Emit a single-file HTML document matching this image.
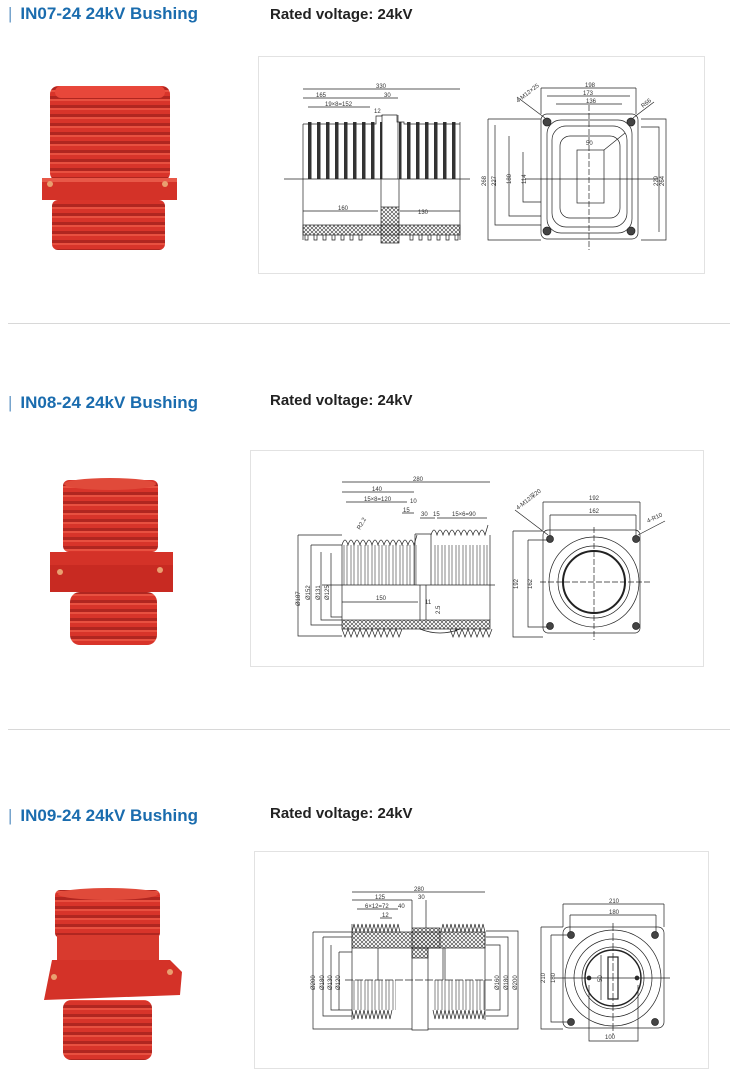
<!DOCTYPE html>
<html><head><meta charset="utf-8"><style>
html,body{margin:0;padding:0;background:#fff;}
body{width:730px;height:1080px;position:relative;overflow:hidden;font-family:"Liberation Sans",sans-serif;}
.t{position:absolute;left:8px;font-weight:bold;font-size:17px;color:#1a6cae;white-space:nowrap;}
.t span{color:#6a9cc8;font-weight:normal;margin-right:8px;}
.r{position:absolute;left:270px;font-weight:bold;font-size:15px;color:#222;white-space:nowrap;}
.hr{position:absolute;left:8px;width:722px;height:1px;background:#d8d8d8;}
svg{position:absolute;left:0;top:0;}
</style></head><body>
<div class="t" style="top:4px"><span>|</span>IN07-24 24kV Bushing</div>
<div class="r" style="top:6px">Rated voltage: 24kV</div>
<div class="hr" style="top:323px"></div>
<div class="t" style="top:393px"><span>|</span>IN08-24 24kV Bushing</div>
<div class="r" style="top:392px">Rated voltage: 24kV</div>
<div class="hr" style="top:729px"></div>
<div class="t" style="top:806px"><span>|</span>IN09-24 24kV Bushing</div>
<div class="r" style="top:805px">Rated voltage: 24kV</div>

<svg width="730" height="1080" viewBox="0 0 730 1080" font-family="Liberation Sans, sans-serif" font-size="6" fill="none" stroke="#222" stroke-width="0.7">
<defs>
<pattern id="rib" width="10" height="9" patternUnits="userSpaceOnUse"><rect width="10" height="9" fill="#d8342a" stroke="none"/><rect y="6" width="10" height="3" fill="#b02620" stroke="none"/><rect y="0" width="10" height="2" fill="#e85040" stroke="none"/></pattern>
<pattern id="fin" width="9" height="10" patternUnits="userSpaceOnUse"><rect x="2" width="3.5" height="10" fill="#333" stroke="none"/></pattern>
<pattern id="fin2" width="7" height="10" patternUnits="userSpaceOnUse"><line x1="1" y1="0" x2="1" y2="10" stroke="#333" stroke-width="0.6"/><line x1="4" y1="0" x2="4" y2="10" stroke="#333" stroke-width="0.6"/></pattern>
<pattern id="hatch" width="4" height="4" patternUnits="userSpaceOnUse"><path d="M0 0L4 4M4 0L0 4" stroke="#333" stroke-width="0.6"/></pattern>
</defs>

<!-- photo 1 -->
<g stroke="none">
<rect x="50" y="86" width="120" height="95" rx="8" fill="url(#rib)"/>
<rect x="55" y="86" width="110" height="12" rx="6" fill="#e8473a"/>
<path d="M42 178 L177 178 L177 200 L42 200 Z" fill="#d43228"/>
<rect x="42" y="178" width="135" height="4" fill="#e85848"/>
<circle cx="50" cy="184" r="3" fill="#e9a070"/><circle cx="165" cy="184" r="3" fill="#e9a070"/>
<rect x="52" y="200" width="113" height="50" rx="6" fill="url(#rib)"/>
</g>
<!-- photo 2 -->
<g stroke="none">
<rect x="63" y="480" width="95" height="72" rx="6" fill="url(#rib)"/>
<ellipse cx="110" cy="484" rx="46" ry="6" fill="#e04a3a"/>
<path d="M50 552 L173 552 L173 592 L50 592 Z" fill="#d43228"/>
<rect x="50" y="565" width="123" height="27" fill="#c82a22"/>
<circle cx="60" cy="572" r="3" fill="#e9a070"/><circle cx="160" cy="570" r="3" fill="#e9a070"/>
<rect x="70" y="592" width="87" height="53" rx="10" fill="url(#rib)"/>
</g>
<!-- photo 3 -->
<g stroke="none">
<rect x="55" y="890" width="105" height="48" rx="5" fill="url(#rib)"/>
<ellipse cx="108" cy="894" rx="50" ry="6" fill="#e04a3a"/>
<rect x="57" y="935" width="102" height="30" fill="#d83a2e"/>
<path d="M52 960 L170 960 L182 972 L180 995 L44 1000 Z" fill="#d43228"/>
<circle cx="54" cy="977" r="3" fill="#e9a070"/><circle cx="170" cy="972" r="3" fill="#e9a070"/>
<rect x="63" y="1000" width="89" height="60" rx="8" fill="url(#rib)"/>
</g>

<!-- drawing boxes -->
<rect x="258.5" y="56.5" width="446" height="217" stroke="#e2e2e2" stroke-width="1"/>
<rect x="250.5" y="450.5" width="453" height="216" stroke="#e2e2e2" stroke-width="1"/>
<rect x="254.5" y="851.5" width="454" height="217" stroke="#e2e2e2" stroke-width="1"/>

<!-- drawing 1 left -->
<g>
<rect x="303" y="122" width="79" height="57" fill="url(#fin)" stroke="none"/>
<rect x="399" y="122" width="61" height="57" fill="url(#fin)" stroke="none"/>
<path d="M303 124 H376 V116 H382 V115 H397 V122 H404 V124 H460"/>
<line x1="303" y1="124" x2="303" y2="240"/><line x1="460" y1="122" x2="460" y2="240"/>
<line x1="382" y1="115" x2="382" y2="179"/><line x1="398" y1="115" x2="398" y2="179"/>
<line x1="284" y1="179" x2="470" y2="179"/>
<line x1="303" y1="89" x2="460" y2="89"/><line x1="303" y1="98" x2="398" y2="98"/><line x1="308" y1="107" x2="370" y2="107"/>
<line x1="303" y1="211" x2="378" y2="211"/><line x1="400" y1="211" x2="460" y2="211"/>
<line x1="381" y1="179" x2="381" y2="207"/><line x1="399" y1="179" x2="399" y2="207"/>
<rect x="303" y="225" width="157" height="10" fill="url(#hatch)"/>
<rect x="381" y="207" width="18" height="36" fill="url(#hatch)"/>
<path d="M305 235v5h3v-5M314 235v5h3v-5M323 235v5h3v-5M332 235v5h3v-5M341 235v5h3v-5M350 235v5h3v-5M359 235v5h3v-5M410 235v5h3v-5M419 235v5h3v-5M428 235v5h3v-5M437 235v5h3v-5M446 235v5h3v-5M455 235v5h3v-5"/>
<g fill="#333" stroke="none"><text x="376" y="88">330</text><text x="316" y="97">165</text><text x="384" y="97">30</text><text x="325" y="106">19×8=152</text><text x="374" y="113">12</text><text x="338" y="210">160</text><text x="418" y="214">130</text></g>
</g>
<!-- drawing 1 right -->
<g>
<rect x="541" y="114" width="97" height="125" rx="6"/>
<rect x="547" y="120" width="85" height="113" rx="14"/>
<rect x="552" y="126" width="75" height="101" rx="14"/>
<rect x="560" y="136" width="60" height="82" rx="10"/>
<rect x="577" y="150" width="27" height="53"/>
<circle cx="547" cy="122" r="4" fill="#444"/><circle cx="631" cy="122" r="4" fill="#444"/><circle cx="547" cy="231" r="4" fill="#444"/><circle cx="631" cy="231" r="4" fill="#444"/>
<line x1="525" y1="179" x2="658" y2="179"/><line x1="589" y1="105" x2="589" y2="250" stroke-dasharray="6 2"/>
<path d="M541 88H636M547 96H630M556 104H622M541 88V114M636 88V114"/>
<path d="M488 119H541M488 119V240H541M495 125V225H541M509 136V216H541M523 152V202H541M641 119H666V240H641M641 127H659V232"/>
<line x1="517" y1="97" x2="545" y2="118"/><line x1="633" y1="118" x2="654" y2="102"/><line x1="604" y1="150" x2="625" y2="133"/>
<g fill="#333" stroke="none"><text x="585" y="87">198</text><text x="583" y="95">173</text><text x="586" y="103">136</text><text x="586" y="145">50</text>
<text transform="translate(486 186) rotate(-90)">268</text><text transform="translate(496 186) rotate(-90)">227</text><text transform="translate(511 184) rotate(-90)">180</text><text transform="translate(526 184) rotate(-90)">114</text><text transform="translate(658 186) rotate(-90)">229</text><text transform="translate(664 186) rotate(-90)">264</text>
<text transform="translate(518 103) rotate(-38)">4-M12×25</text><text transform="translate(643 108) rotate(-38)">R66</text></g>
</g>

<!-- drawing 2 left -->
<g>
<rect x="342" y="545" width="75" height="40" fill="url(#fin2)" stroke="none"/>
<rect x="432" y="545" width="58" height="40" fill="url(#fin2)" stroke="none"/>
<path d="M342 545 q3 -10 6 0 q3 -10 6 0 q3 -10 6 0 q3 -10 6 0 q3 -10 6 0 q3 -10 6 0 q3 -10 6 0 q3 -10 6 0 q3 -10 6 0 q3 -10 6 0 q3 -10 6 0 q3 -10 6 0 q3 -10 3 -10"/>
<path d="M431 535 q3 -10 6 0 q3 -10 6 0 q3 -10 6 0 q3 -10 6 0 q3 -10 6 0 q3 -10 6 0 q3 -10 6 0 q3 -10 6 0 q3 -10 6 0 q3 -10 3 -10"/>
<path d="M415 534H431V585M415 534V585M342 545V620M490 535V620"/>
<line x1="322" y1="585" x2="495" y2="585"/>
<line x1="342" y1="602" x2="418" y2="602"/><line x1="420" y1="585" x2="420" y2="620"/><line x1="426" y1="585" x2="426" y2="620"/>
<rect x="342" y="620" width="148" height="9" fill="url(#hatch)"/>
<path d="M342 629 l3 8 l3 -8 l3 8 l3 -8 l3 8 l3 -8 l3 8 l3 -8 l3 8 l3 -8 l3 8 l3 -8 l3 8 l3 -8 l3 8 l3 -8 l3 8 l3 -8 l3 8 l3 -8 M420 629 q20 8 40 0 M450 629 l3 8 l3 -8 l3 8 l3 -8 l3 8 l3 -8 l3 8 l3 -8 l3 8 l3 -8 l3 8 l3 -8 l3 8 l3 -8"/>
<path d="M342 482H490M342 492H414M346 502H407M402 513H414M420 518H435M437 518H487"/>
<path d="M298 535H342M298 535V636H342M311 545H342M311 545V625H342M321 552V620H342M331 553V617H342"/>
<g fill="#333" stroke="none"><text x="413" y="481">280</text><text x="372" y="491">140</text><text x="364" y="501">15×8=120</text><text x="410" y="503">10</text><text x="403" y="512">15</text><text x="421" y="516">30</text><text x="433" y="516">15</text><text x="452" y="516">15×6=90</text><text x="376" y="600">150</text><text x="425" y="604">11</text>
<text transform="translate(300 606) rotate(-90)">Ø187</text><text transform="translate(310 600) rotate(-90)">Ø152</text><text transform="translate(320 600) rotate(-90)">Ø131</text><text transform="translate(329 600) rotate(-90)">Ø125</text>
<text transform="translate(360 530) rotate(-60)">R2.2</text><text transform="translate(440 614) rotate(-90)">2.5</text></g>
</g>
<!-- drawing 2 right -->
<g>
<rect x="543" y="530" width="97" height="103" rx="5"/>
<circle cx="594" cy="582" r="45"/><circle cx="594" cy="582" r="36"/><circle cx="594" cy="582" r="31" stroke-width="2"/>
<circle cx="550" cy="539" r="3.5" fill="#444"/><circle cx="636" cy="539" r="3.5" fill="#444"/><circle cx="550" cy="626" r="3.5" fill="#444"/><circle cx="636" cy="626" r="3.5" fill="#444"/>
<line x1="540" y1="582" x2="650" y2="582" stroke-dasharray="6 2"/><line x1="594" y1="527" x2="594" y2="640" stroke-dasharray="6 2"/>
<path d="M543 502H640M543 502V530M640 502V530M550 515H636M550 515V536M636 515V536M513 531H543M513 531V637H543M528 540H548M528 540V627H548"/>
<line x1="515" y1="510" x2="548" y2="535"/><line x1="638" y1="535" x2="665" y2="521"/>
<g fill="#333" stroke="none"><text x="589" y="500">192</text><text x="589" y="513">162</text><text transform="translate(518 589) rotate(-90)">192</text><text transform="translate(532 589) rotate(-90)">162</text>
<text transform="translate(518 510) rotate(-38)">4-M12深20</text><text transform="translate(648 523) rotate(-25)">4-R10</text></g>
</g>

<!-- drawing 3 left -->
<g>
<rect x="352" y="932" width="133" height="16" fill="url(#hatch)"/>
<rect x="412" y="928" width="28" height="20" fill="url(#hatch)"/>
<rect x="412" y="948" width="16" height="10" fill="url(#hatch)"/>
<path d="M352 932 l2 -8 l2 8 l2 -8 l2 8 l2 -8 l2 8 l2 -8 l2 8 l2 -8 l2 8 l2 -8 l2 8 l2 -8 l2 8 l2 -8 l2 8 l2 -8 l2 8 l2 -8 l2 8 l2 -8 l2 8 l2 -8 l2 8 M441 932 l2 -8 l2 8 l2 -8 l2 8 l2 -8 l2 8 l2 -8 l2 8 l2 -8 l2 8 l2 -8 l2 8 l2 -8 l2 8 l2 -8 l2 8 l2 -8 l2 8 l2 -8 l2 8 l2 -8 l2 8"/>
<path d="M352 924V1020M485 932V1020M378 948V980M412 948V1030H428V948M443 948V980M445 948V980"/>
<rect x="352" y="980" width="44" height="30" fill="url(#fin2)" stroke="none"/>
<rect x="433" y="980" width="52" height="30" fill="url(#fin2)" stroke="none"/>
<path d="M352 1010 l2 9 l2 -9 l2 9 l2 -9 l2 9 l2 -9 l2 9 l2 -9 l2 9 l2 -9 l2 9 l2 -9 l2 9 l2 -9 l2 9 l2 -9 l2 9 l2 -9 l2 9 l2 -9 M433 1010 l2 9 l2 -9 l2 9 l2 -9 l2 9 l2 -9 l2 9 l2 -9 l2 9 l2 -9 l2 9 l2 -9 l2 9 l2 -9 l2 9 l2 -9 l2 9 l2 -9 l2 9 l2 -9 l2 9 l2 -9 l2 9 l2 -9 l2 9 l2 -9"/>
<line x1="345" y1="980" x2="492" y2="980" stroke-dasharray="8 2"/>
<path d="M352 892H485M352 900H412M357 909H398M380 918H392M412 900V928M426 900V928"/>
<path d="M313 932H352M313 932V1029H412M323 937H352M323 937V1016H352M331 945V1010H352M339 952V1010M339 952H352M486 931H518V1029H428M486 937H508V1016H486M486 945H500V1010H486"/>
<g fill="#333" stroke="none"><text x="414" y="891">280</text><text x="375" y="899">125</text><text x="418" y="899">30</text><text x="365" y="908">6×12=72</text><text x="398" y="908">40</text><text x="382" y="917">12</text>
<text transform="translate(315 990) rotate(-90)">Ø200</text><text transform="translate(324 990) rotate(-90)">Ø180</text><text transform="translate(332 990) rotate(-90)">Ø130</text><text transform="translate(340 990) rotate(-90)">Ø120</text><text transform="translate(499 990) rotate(-90)">Ø160</text><text transform="translate(508 990) rotate(-90)">Ø180</text><text transform="translate(517 990) rotate(-90)">Ø200</text></g>
</g>
<!-- drawing 3 right -->
<g>
<rect x="563" y="927" width="101" height="101" rx="6"/>
<circle cx="613" cy="978" r="48"/><circle cx="613" cy="978" r="39"/><circle cx="613" cy="978" r="31"/><circle cx="613" cy="978" r="28" stroke-width="1.4"/>
<rect x="608" y="957" width="10" height="42" stroke-width="1.2"/><line x1="601" y1="955" x2="601" y2="1000"/>
<circle cx="571" cy="935" r="3.5" fill="#444"/><circle cx="655" cy="935" r="3.5" fill="#444"/><circle cx="571" cy="1022" r="3.5" fill="#444"/><circle cx="655" cy="1022" r="3.5" fill="#444"/>
<circle cx="589" cy="978" r="2" fill="#333"/><circle cx="637" cy="978" r="2" fill="#333"/>
<line x1="555" y1="978" x2="670" y2="978"/><line x1="613" y1="923" x2="613" y2="1035" stroke-dasharray="8 2"/>
<path d="M563 904H664M563 904V927M664 904V927M570 915H656M570 915V932M656 915V932M541 927H563M541 927V1029H563M551 935H568M551 935V1022H568M589 985V1041H638V985"/>
<g fill="#333" stroke="none"><text x="609" y="903">210</text><text x="609" y="914">180</text><text x="605" y="1039">100</text><text transform="translate(545 983) rotate(-90)">210</text><text transform="translate(555 983) rotate(-90)">180</text><text transform="translate(602 982) rotate(-90)">50</text></g>
</g>
</svg>
</body></html>
